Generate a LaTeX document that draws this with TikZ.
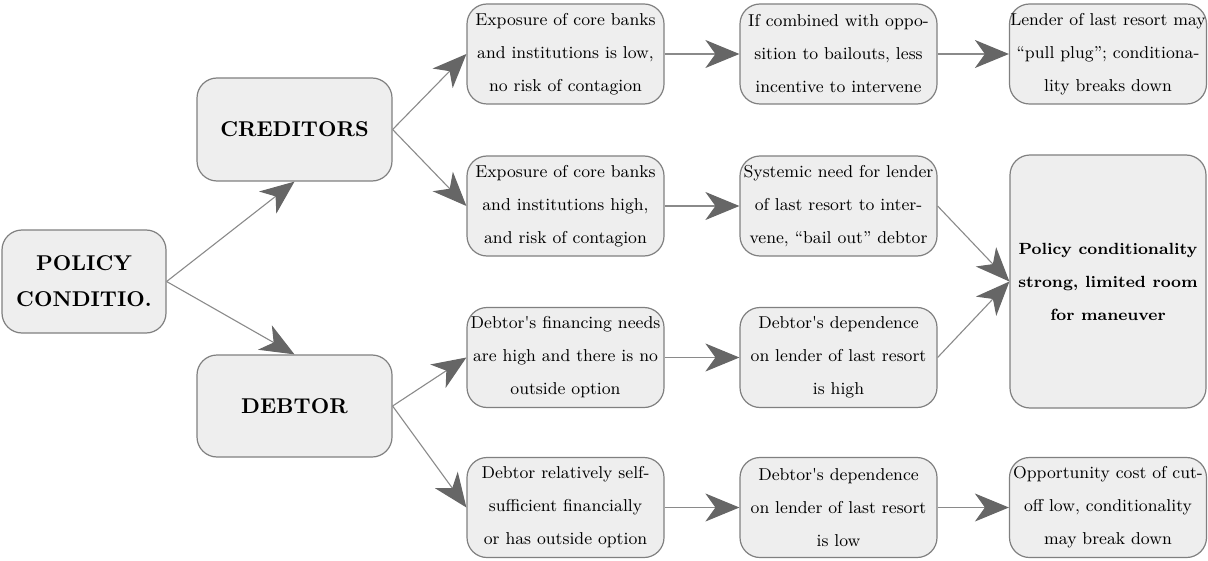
\documentclass[tikz,border=0pt]{standalone}
\usepackage{fontspec}
\usetikzlibrary{arrows.meta}
\definecolor{boxfill}{HTML}{EEEEEE}
\definecolor{boxline}{HTML}{808080}
\definecolor{linec}{HTML}{8A8A8A}
\definecolor{headc}{HTML}{666666}
\tikzset{
  box/.style={draw=boxline, fill=boxfill, rounded corners=10pt, line width=0.6pt,
    align=center, inner sep=0pt, font=\fontsize{8.6}{16.5}\selectfont},
  smallbox/.style={box, minimum width=98.5pt, minimum height=50pt},
  bigbox/.style={box, font=\fontsize{10.7}{18}\selectfont\bfseries},
  conn/.style={draw=linec, line width=0.55pt,
    -{Stealth[length=17pt, width=14pt, inset=5pt, fill=headc, color=headc]}}
}
\begin{document}
\begin{tikzpicture}[x=0.5pt, y=-0.5pt]
\useasboundingbox (0,0) rectangle (1208,561);

\node[bigbox, minimum width=82pt, minimum height=51.5pt] (pol) at (84,281.5) {POLICY\\CONDITIO.};
\node[bigbox, minimum width=97.5pt, minimum height=51.5pt] (cred) at (294.5,129.5) {CREDITORS};
\node[bigbox, minimum width=97.5pt, minimum height=51pt] (debt) at (294.5,406) {DEBTOR};

\node[smallbox] (a2) at (565.5,54) {Exposure of core banks\\and institutions is low,\\no risk of contagion};
\node[smallbox] (a3) at (838.5,54) {If combined with oppo-\\sition to bailouts, less\\incentive to intervene};
\node[smallbox] (a4) at (1108,54) {Lender of last resort may\\“pull plug”; conditiona-\\lity breaks down};

\node[smallbox] (b2) at (565.5,206) {Exposure of core banks\\and institutions high,\\and risk of contagion};
\node[smallbox] (b3) at (838.5,206) {Systemic need for lender\\of last resort to inter-\\vene, “bail out” debtor};

\node[box, minimum width=98pt, minimum height=126.5pt, font=\fontsize{8.1}{16.5}\selectfont\bfseries] (big) at (1108,281.5) {Policy conditionality\\strong, limited room\\for maneuver};

\node[smallbox] (c2) at (565.5,357.5) {Debtor\textquotesingle s financing needs\\are high and there is no\\outside option};
\node[smallbox] (c3) at (838.5,357.5) {Debtor\textquotesingle s dependence\\on lender of last resort\\is high};

\node[smallbox] (d2) at (565.5,507.5) {Debtor relatively self-\\sufficient financially\\or has outside option};
\node[smallbox] (d3) at (838.5,507.5) {Debtor\textquotesingle s dependence\\on lender of last resort\\is low};
\node[smallbox] (d4) at (1108,507.5) {Opportunity cost of cut-\\off low, conditionality\\may break down};

\draw[conn] (pol.east) -- (cred.south);
\draw[conn] (pol.east) -- (debt.north);
\draw[conn] (cred.east) -- (a2.west);
\draw[conn] (cred.east) -- (b2.west);
\draw[conn] (debt.east) -- (c2.west);
\draw[conn] (debt.east) -- (d2.west);
\draw[conn] (a2) -- (a3);
\draw[conn] (a3) -- (a4);
\draw[conn] (b2) -- (b3);
\draw[conn] (c2) -- (c3);
\draw[conn] (d2) -- (d3);
\draw[conn] (d3) -- (d4);
\draw[conn] (b3.east) -- (big.west);
\draw[conn] (c3.east) -- (big.west);
\end{tikzpicture}
\end{document}
